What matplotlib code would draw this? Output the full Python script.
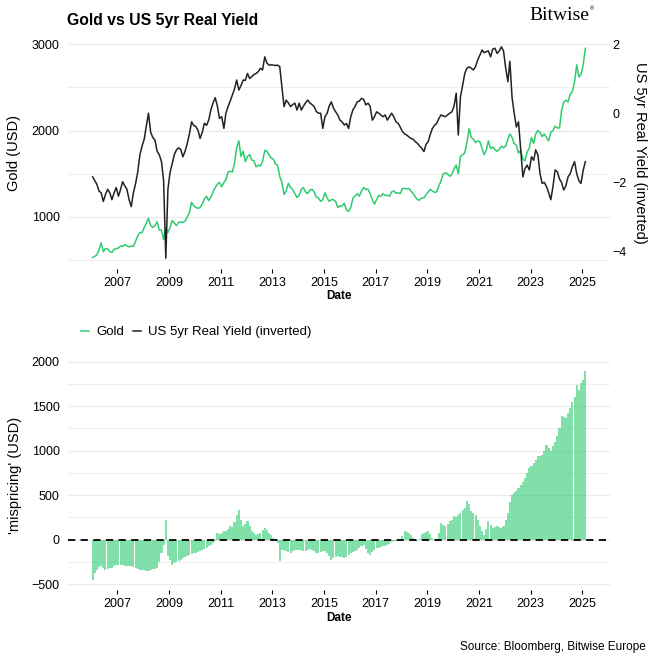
#!/usr/bin/env python3
"""
Gold vs US 5yr real yield (inverted), with the 'mispricing' bars below.
"""

import matplotlib
matplotlib.use("Agg")
import matplotlib.pyplot as plt
import numpy as np
import pandas as pd
from matplotlib.lines import Line2D
from matplotlib.ticker import FixedLocator

plt.rcParams['font.family'] = ['Liberation Sans', 'DejaVu Sans']

# monthly observations, Jan 2006 .. Feb 2025
start_month = '2006-01-01'

gold = [
    530, 545, 560, 620, 700, 600, 635, 630, 600, 590, 625, 635,          # 2006
    640, 665, 660, 680, 665, 655, 665, 660, 720, 780, 820, 820,          # 2007
    880, 930, 985, 900, 880, 900, 945, 850, 850, 740, 870, 820,          # 2008
    880, 960, 930, 900, 940, 940, 940, 950, 1000, 1050, 1170, 1130,      # 2009
    1110, 1100, 1110, 1150, 1210, 1240, 1190, 1230, 1290, 1340, 1380, 1400,  # 2010
    1350, 1400, 1430, 1520, 1530, 1520, 1620, 1800, 1880, 1700, 1760, 1640,  # 2011
    1700, 1720, 1660, 1650, 1580, 1600, 1590, 1640, 1770, 1760, 1720, 1680,  # 2012
    1670, 1610, 1600, 1470, 1400, 1260, 1300, 1390, 1340, 1320, 1270, 1225,  # 2013
    1250, 1320, 1340, 1290, 1270, 1310, 1320, 1290, 1230, 1220, 1180, 1200,  # 2014
    1280, 1220, 1180, 1200, 1200, 1180, 1110, 1130, 1130, 1160, 1080, 1065,  # 2015
    1110, 1220, 1240, 1270, 1240, 1300, 1340, 1320, 1320, 1270, 1200, 1150,  # 2016
    1200, 1250, 1240, 1270, 1250, 1250, 1240, 1290, 1300, 1275, 1280, 1270,  # 2017
    1330, 1330, 1325, 1330, 1300, 1270, 1235, 1200, 1195, 1220, 1220, 1260,  # 2018
    1290, 1320, 1300, 1285, 1290, 1360, 1420, 1500, 1510, 1500, 1470, 1490,  # 2019
    1560, 1600, 1500, 1700, 1720, 1740, 1860, 2020, 1920, 1900, 1860, 1880,  # 2020
    1870, 1790, 1720, 1770, 1880, 1790, 1810, 1780, 1760, 1780, 1820, 1800,  # 2021
    1820, 1900, 1960, 1920, 1850, 1830, 1740, 1770, 1670, 1650, 1750, 1800,  # 2022
    1920, 1850, 1960, 2000, 1980, 1930, 1960, 1920, 1880, 1980, 2000, 2050,  # 2023
    2030, 2030, 2230, 2330, 2350, 2330, 2420, 2450, 2560, 2760, 2620, 2650,  # 2024
    2760, 2950,                                                              # 2025
]

real_yield_inv = [
    -1.84, -1.95, -2.05, -2.25, -2.30, -2.55, -2.35, -2.20, -2.30, -2.50, -2.30, -2.15,  # 2006
    -2.40, -2.20, -1.98, -2.10, -2.20, -2.50, -2.70, -2.30, -2.03, -1.70, -1.20, -0.95,  # 2007
    -0.75, -0.35, 0.00, -0.55, -0.70, -0.78, -1.10, -1.20, -1.40, -1.95, -4.19, -2.20,   # 2008
    -1.70, -1.45, -1.20, -1.06, -1.00, -1.05, -1.26, -1.10, -0.87, -0.60, -0.25, -0.35,  # 2009
    -0.39, -0.50, -0.73, -0.55, -0.29, -0.35, -0.20, 0.10, 0.30, 0.45, 0.20, -0.15,      # 2010
    -0.10, -0.44, 0.00, 0.19, 0.35, 0.53, 0.70, 0.96, 0.67, 0.80, 0.96, 0.95,            # 2011
    1.15, 1.00, 1.06, 1.12, 1.15, 1.20, 1.30, 1.25, 1.63, 1.45, 1.39, 1.40,              # 2012
    1.39, 1.38, 1.39, 1.35, 0.77, 0.19, 0.38, 0.30, 0.19, 0.25, 0.29, 0.09,              # 2013
    0.29, 0.09, 0.20, 0.30, 0.38, 0.30, 0.25, 0.19, 0.05, 0.00, 0.00, -0.44,             # 2014
    -0.10, 0.00, 0.20, 0.33, 0.15, 0.04, -0.05, -0.20, -0.25, -0.34, -0.30, -0.44,       # 2015
    -0.10, 0.10, 0.19, 0.33, 0.35, 0.43, 0.40, 0.24, 0.29, 0.20, -0.20, -0.10,           # 2016
    0.04, 0.00, -0.05, -0.10, -0.05, -0.20, -0.10, 0.00, -0.10, -0.25, -0.29, -0.40,     # 2017
    -0.53, -0.60, -0.63, -0.68, -0.73, -0.75, -0.82, -0.87, -0.95, -1.01, -1.11, -0.90,  # 2018
    -0.82, -0.60, -0.44, -0.35, -0.29, -0.15, -0.05, -0.08, -0.10, -0.05, 0.00, 0.04,    # 2019
    0.20, 0.58, -0.63, 0.48, 0.80, 1.15, 1.30, 1.34, 1.30, 1.25, 1.35, 1.54,             # 2020
    1.68, 1.83, 1.75, 1.78, 1.80, 1.63, 1.85, 1.88, 1.73, 1.80, 1.92, 1.80,              # 2021
    1.30, 0.91, 1.50, 0.45, 0.00, -0.40, -0.25, -1.06, -1.84, -1.60, -1.50, -1.64,       # 2022
    -1.26, -1.36, -1.06, -1.20, -1.74, -2.03, -2.00, -2.12, -2.30, -2.50, -2.12, -1.64,  # 2023
    -1.69, -1.90, -2.00, -2.22, -2.10, -1.84, -1.75, -1.55, -1.40, -1.74, -1.95, -2.03,  # 2024
    -1.65, -1.40,                                                                        # 2025
]

mispricing = [
    -449, -380, -340, -310, -300, -320, -337, -330, -320, -318, -300, -290,  # 2006
    -285, -281, -290, -300, -300, -295, -300, -310, -320, -330, -337, -340,  # 2007
    -345, -356, -350, -337, -330, -325, -318, -250, -150, -60, 225, -187,    # 2008
    -230, -281, -260, -250, -240, -225, -210, -200, -187, -175, -160, -150,  # 2009
    -150, -140, -131, -120, -105, -90, -75, -60, -40, -19, 75, 60,           # 2010
    80, 94, 100, 120, 150, 140, 200, 280, 337, 225, 150, 180,                # 2011
    206, 150, 94, 70, 56, 60, 80, 110, 131, 110, 75, 50,                     # 2012
    19, 10, -37, -243, -120, -112, -130, -140, -150, -130, -120, -112,       # 2013
    -112, -120, -131, -125, -112, -105, -112, -130, -150, -145, -140, -131,  # 2014
    -131, -150, -180, -225, -210, -195, -187, -190, -200, -206, -190, -170,  # 2015
    -150, -140, -130, -112, -90, -70, -56, -100, -150, -169, -140, -120,     # 2016
    -94, -90, -80, -75, -70, -60, -45, -30, -20, -10, 0, 5,                  # 2017
    40, 94, 85, 75, 50, 19, -5, -19, 10, 60, 75, 85,                         # 2018
    94, 60, 19, 5, 0, 80, 187, 170, 150, 180, 206, 220,                      # 2019
    262, 250, 280, 300, 330, 360, 431, 400, 318, 300, 281, 220,              # 2020
    150, 100, 56, 120, 206, 170, 131, 140, 150, 140, 131, 150,               # 2021
    225, 300, 420, 506, 520, 543, 580, 618, 650, 693, 750, 805,              # 2022
    830, 861, 900, 936, 945, 955, 1000, 1067, 1030, 992, 1050, 1100,         # 2023
    1161, 1250, 1386, 1380, 1367, 1420, 1479, 1550, 1600, 1741, 1685, 1760,  # 2024
    1800, 1891,                                                              # 2025
]

tick_years = [2007, 2009, 2011, 2013, 2015, 2017, 2019, 2021, 2023, 2025]

GREEN = '#2ecc71'
DARK = '#222222'
GRID = '#ebebeb'


def style_axes(ax):
    for s in ax.spines.values():
        s.set_visible(False)
    ax.tick_params(axis='x', length=3, width=0.8, color='black', pad=3,
                   labelsize=9, labelcolor='black')
    ax.tick_params(axis='y', which='both', length=0, pad=6,
                   labelsize=9, labelcolor='black')
    ax.grid(True, axis='y', which='major', color=GRID, lw=0.9)
    ax.grid(True, axis='y', which='minor', color=GRID, lw=0.6)
    ax.grid(False, axis='x')
    ax.set_axisbelow(True)


def main():
    dates = pd.date_range(start_month, periods=len(gold), freq='MS') + pd.Timedelta(days=14)
    g = np.array(gold, dtype=float)
    ry = np.array(real_yield_inv, dtype=float)
    mp = np.array(mispricing, dtype=float)

    span = dates[-1] - dates[0]
    xlo, xhi = dates[0] - 0.05 * span, dates[-1] + 0.05 * span
    ticks = pd.to_datetime([f'{y}-01-01' for y in tick_years])

    fig = plt.figure(figsize=(6.61, 6.61), dpi=100)

    # ---- top panel ----
    ax1 = fig.add_axes([68 / 661, 1 - 268.7 / 661, 542 / 661, 230.8 / 661])
    style_axes(ax1)
    ax1.plot(dates, g, color=GREEN, lw=1.1)
    glo, ghi = 402, 3071
    ax1.set_ylim(glo, ghi)
    ax1.yaxis.set_major_locator(FixedLocator([1000, 2000, 3000]))
    ax1.yaxis.set_minor_locator(FixedLocator([500, 1500, 2500]))
    ax1.set_xlim(xlo, xhi)
    ax1.set_xticks(ticks)
    ax1.set_xticklabels([str(y) for y in tick_years])
    ax1.set_ylabel('Gold (USD)', fontsize=10.5)
    ax1.yaxis.set_label_coords(-0.087, 0.5)
    ax1.set_xlabel('Date', fontsize=8.5, fontweight='bold', labelpad=1)

    # yield axis on the right, 1 unit = 400 USD, 0 sits at 2200
    ax2 = ax1.twinx()
    for s in ax2.spines.values():
        s.set_visible(False)
    ax2.plot(dates, ry, color=DARK, lw=1.1)
    ax2.set_ylim((glo - 2200) / 400, (ghi - 2200) / 400)
    ax2.set_yticks([-4, -2, 0, 2])
    ax2.tick_params(axis='y', length=0, pad=2, labelsize=9, labelcolor='black')
    ax2.set_ylabel('US 5yr Real Yield (inverted)', fontsize=10.5, rotation=-90,
                   va='center')
    ax2.yaxis.set_label_coords(1.056, 0.5)
    ax2.set_xlim(xlo, xhi)

    # ---- bottom panel ----
    ax3 = fig.add_axes([68 / 661, 1 - 590 / 661, 542 / 661, 229 / 661])
    style_axes(ax3)
    ax3.bar(dates, mp, width=29, color=GREEN, alpha=0.6, lw=0)
    ax3.axhline(0, color='black', lw=1.3, ls=(0, (4, 3)))
    ax3.set_ylim(-566, 2008)
    ax3.yaxis.set_major_locator(FixedLocator([-500, 0, 500, 1000, 1500, 2000]))
    ax3.yaxis.set_minor_locator(FixedLocator([-250, 250, 750, 1250, 1750]))
    ax3.set_xlim(xlo, xhi)
    ax3.set_xticks(ticks)
    ax3.set_xticklabels([str(y) for y in tick_years])
    ax3.set_ylabel("'mispricing' (USD)", fontsize=10.5)
    ax3.yaxis.set_label_coords(-0.084, 0.5)
    ax3.set_xlabel('Date', fontsize=8.5, fontweight='bold', labelpad=1)

    # legend between the panels
    handles = [Line2D([], [], color=GREEN, lw=1.1), Line2D([], [], color=DARK, lw=1.1)]
    fig.legend(handles, ['Gold', 'US 5yr Real Yield (inverted)'],
               loc='center left', bbox_to_anchor=(81 / 661, 1 - 332 / 661),
               ncol=2, frameon=False, fontsize=9.5, handlelength=0.6,
               handletextpad=0.6, columnspacing=0.6, borderpad=0, borderaxespad=0)

    # title, logo, source
    fig.text(67 / 661, 1 - 20 / 661, 'Gold vs US 5yr Real Yield', fontsize=11.3,
             fontweight='bold', ha='left', va='center')
    fig.text(589 / 661, 1 - 15 / 661, 'Bitwise', fontsize=14, ha='right', va='center',
             family=['Liberation Serif', 'DejaVu Serif'])
    fig.text(590 / 661, 1 - 9 / 661, '\u00ae', fontsize=4, ha='left', va='center')
    fig.text(646 / 661, 1 - 647 / 661, 'Source: Bloomberg, Bitwise Europe',
             fontsize=8.5, ha='right', va='center')

    fig.savefig('out.png', dpi=100, facecolor='white')


if __name__ == "__main__":
    main()
